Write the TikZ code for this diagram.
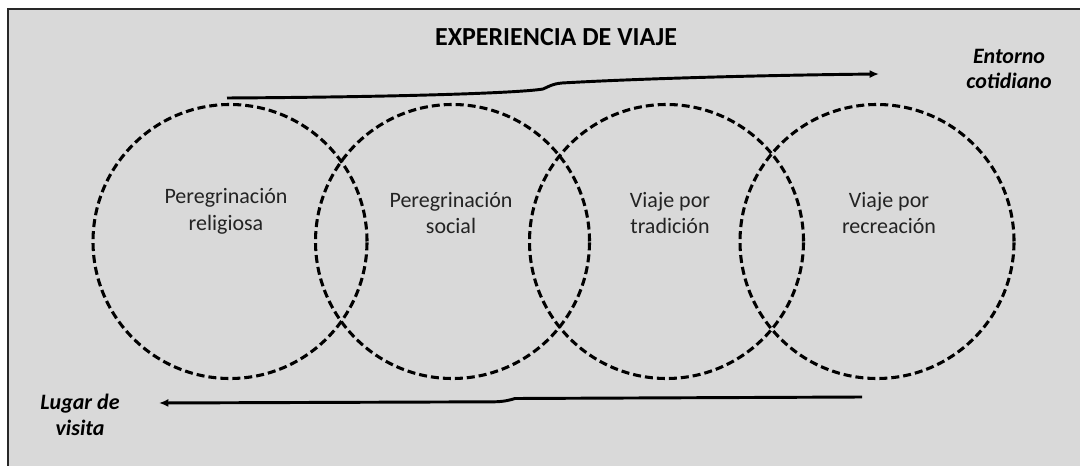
\documentclass[tikz,border=0pt]{standalone}
\usepackage{fontspec}
\setmainfont{Carlito}
\usetikzlibrary{arrows.meta}
\definecolor{bg}{RGB}{217,217,217}
\definecolor{frame}{RGB}{40,40,40}
\definecolor{txt}{RGB}{35,35,35}
\begin{document}
\begin{tikzpicture}[x=0.75pt,y=-0.75pt,
  ring/.style={draw=black,line width=2.3pt,dash pattern=on 6pt off 3pt},
  ringtext/.style={align=center,text=txt,font=\fontsize{16.5pt}{20pt}\selectfont},
  sidetext/.style={align=center,font=\fontsize{16.5pt}{19pt}\selectfont\bfseries\itshape},
  flow/.style={line width=2.2pt,-{Latex[length=7pt,width=6pt]}}]
\useasboundingbox (0,0) rectangle (1080,466);
\fill[white] (0,0) rectangle (1080,466);
\fill[bg] (8,9) rectangle (1080,466);
\draw[frame,line width=1.5pt] (8,466) -- (8,9) -- (1080,9);
% title
\node[font=\fontsize{19.5pt}{22pt}\selectfont\bfseries] (title) at (556,37) {EXPERIENCIA DE VIAJE};
% circles
\node[ring,circle,minimum size=205.5pt,inner sep=0pt] (c1) at (230,241.5) {};
\node[ring,circle,minimum size=205.5pt,inner sep=0pt] (c2) at (452.5,241.5) {};
\node[ring,circle,minimum size=205.5pt,inner sep=0pt] (c3) at (666.5,241.5) {};
\node[ring,circle,minimum size=205.5pt,inner sep=0pt] (c4) at (877,241.5) {};
% circle texts
\node[ringtext] (t1) at (226,211) {Peregrinación\\religiosa};
\node[ringtext] (t2) at (451,213) {Peregrinación\\social};
\node[ringtext] (t3) at (670,213) {Viaje por\\tradición};
\node[ringtext] (t4) at (889,213) {Viaje por\\recreación};
% side labels
\node[sidetext] (entorno) at (1009,69) {Entorno\\cotidiano};
\node[sidetext] (lugar) at (80,415) {Lugar de\\visita};
% arrows
\coordinate (a1s) at (227,98);
\coordinate (a1e) at (879,74);
\coordinate (a2s) at (862,397);
\coordinate (a2e) at (159,403);
\draw[flow] (a1s) .. controls (400,97) and (520,93) .. (543,89)
  .. controls (550,86) and (552,84) .. (562,83)
  .. controls (650,78) and (780,75) .. (a1e);
\draw[flow] (a2s) -- (515,398.5) .. controls (510,400) and (505,401.5) .. (495,401.8) -- (a2e);
\end{tikzpicture}
\end{document}
